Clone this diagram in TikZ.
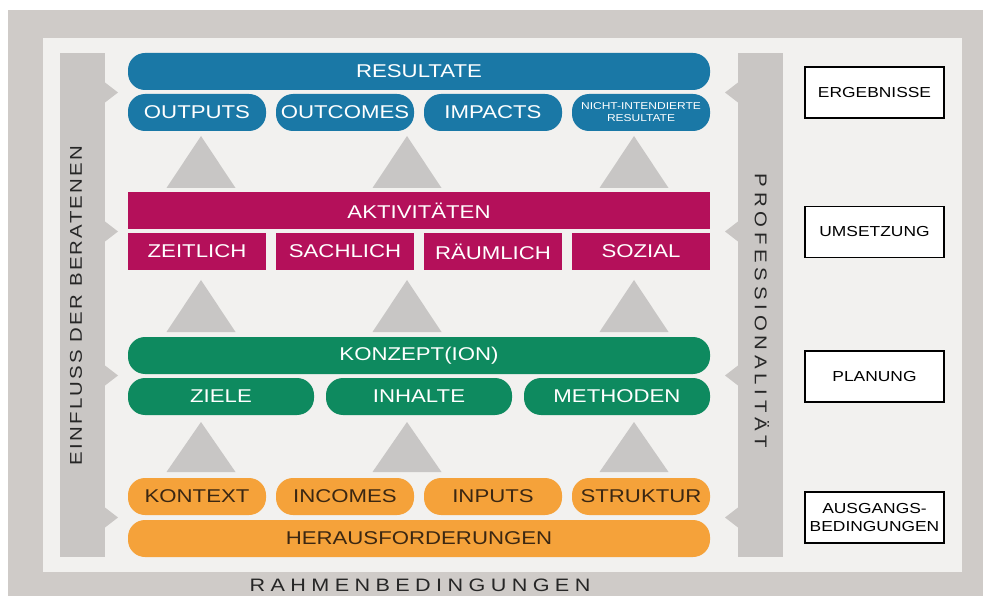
\documentclass[tikz,border=0pt]{standalone}
\usepackage{fontspec}
\setmainfont{Liberation Sans}[FakeStretch=1.2]
\newfontfamily\tracked{Liberation Sans}[FakeStretch=1.2]

\definecolor{framegray}{HTML}{CFCBC8}
\definecolor{innerlight}{HTML}{F2F1EF}
\definecolor{bargray}{HTML}{C9C6C4}
\definecolor{trigray}{HTML}{C8C6C5}
\definecolor{resblue}{HTML}{1A78A6}
\definecolor{aktmagenta}{HTML}{B4105A}
\definecolor{konzgreen}{HTML}{0E8A5F}
\definecolor{ausorange}{HTML}{F5A23A}
\definecolor{orangetext}{HTML}{3B2712}

\begin{document}
\begin{tikzpicture}[x=1pt,y=-1pt,
    pill/.style={rectangle,rounded corners=17pt,minimum height=37pt,inner sep=0pt,
      text=white,font=\fontsize{18.5}{20}\selectfont},
    block/.style={rectangle,minimum height=37pt,inner sep=0pt,
      text=white,font=\fontsize{18.5}{20}\selectfont,fill=aktmagenta},
    stage/.style={rectangle,draw=black,line width=1.1pt,fill=white,minimum width=139pt,
      minimum height=51pt,inner sep=0pt,align=center,font=\fontsize{14.5}{18}\selectfont}]
    \useasboundingbox (0,0) rectangle (983,596);
    % frame and side bars
    \fill[framegray] (8,10) rectangle (983,596);
    \fill[innerlight] (43,38) rectangle (962,572);
    \fill[bargray] (60,53) rectangle (105,557);
    \fill[bargray] (738,53) rectangle (783,557);
    \fill[bargray] (105,82.5) -- (118,92.5) -- (105,102.5) -- cycle;
    \fill[bargray] (105,221.5) -- (118,231.5) -- (105,241.5) -- cycle;
    \fill[bargray] (105,365.5) -- (118,375.5) -- (105,385.5) -- cycle;
    \fill[bargray] (105,507.5) -- (118,517.5) -- (105,527.5) -- cycle;
    \fill[bargray] (738,82.5) -- (725,92.5) -- (738,102.5) -- cycle;
    \fill[bargray] (738,221.5) -- (725,231.5) -- (738,241.5) -- cycle;
    \fill[bargray] (738,365.5) -- (725,375.5) -- (738,385.5) -- cycle;
    \fill[bargray] (738,507.5) -- (725,517.5) -- (738,527.5) -- cycle;
    % triangles between the levels
    \fill[trigray] (166.5,188) -- (201,136) -- (235.5,188) -- cycle;
    \fill[trigray] (372.5,188) -- (407,136) -- (441.5,188) -- cycle;
    \fill[trigray] (599.5,188) -- (634,136) -- (668.5,188) -- cycle;
    \fill[trigray] (166.5,332) -- (201,280) -- (235.5,332) -- cycle;
    \fill[trigray] (372.5,332) -- (407,280) -- (441.5,332) -- cycle;
    \fill[trigray] (599.5,332) -- (634,280) -- (668.5,332) -- cycle;
    \fill[trigray] (166.5,472) -- (201,422) -- (235.5,472) -- cycle;
    \fill[trigray] (372.5,472) -- (407,422) -- (441.5,472) -- cycle;
    \fill[trigray] (599.5,472) -- (634,422) -- (668.5,472) -- cycle;
    % results
    \begin{scope}[every node/.style={pill,fill=resblue}]
        \node[minimum width=582pt] (res) at (419,71.5) {RESULTATE};
        \node[minimum width=138pt] (outputs) at (197,112.5) {OUTPUTS};
        \node[minimum width=138pt] (outcomes) at (345,112.5) {OUTCOMES};
        \node[minimum width=138pt] (impacts) at (493,112.5) {IMPACTS};
        \node[minimum width=138pt,align=center,font=\fontsize{10}{12}\selectfont] (nichtint) at (641,112.5) {NICHT-INTENDIERTE\\RESULTATE};
    \end{scope}
    % activities
    \begin{scope}[every node/.style={block}]
        \node[minimum width=582pt] (akt) at (419,210.5) {AKTIVITÄTEN};
        \node[minimum width=138pt] (zeitlich) at (197,251.5) {ZEITLICH};
        \node[minimum width=138pt] (sachlich) at (345,251.5) {SACHLICH};
        \node[minimum width=138pt] (raeumlich) at (493,251.5) {RÄUMLICH};
        \node[minimum width=138pt] (sozial) at (641,251.5) {SOZIAL};
    \end{scope}
    % concept
    \begin{scope}[every node/.style={pill,fill=konzgreen}]
        \node[minimum width=582pt] (konz) at (419,355.5) {KONZEPT(ION)};
        \node[minimum width=186pt] (ziele) at (221,396.5) {ZIELE};
        \node[minimum width=186pt] (inhalte) at (419,396.5) {INHALTE};
        \node[minimum width=186pt] (methoden) at (617,396.5) {METHODEN};
    \end{scope}
    % starting conditions
    \begin{scope}[every node/.style={pill,fill=ausorange,text=orangetext}]
        \node[minimum width=138pt] (kontext) at (197,496.5) {KONTEXT};
        \node[minimum width=138pt] (incomes) at (345,496.5) {INCOMES};
        \node[minimum width=138pt] (inputs) at (493,496.5) {INPUTS};
        \node[minimum width=138pt] (struktur) at (641,496.5) {STRUKTUR};
        \node[minimum width=582pt] (herausf) at (419,538.5) {HERAUSFORDERUNGEN};
    \end{scope}
    % stages on the right
    \node[stage] (ergebnisse) at (874.5,92.5) {ERGEBNISSE};
    \node[stage] (umsetzung) at (874.5,232) {UMSETZUNG};
    \node[stage] (planung) at (874.5,376.5) {PLANUNG};
    \node[stage] (ausgang) at (874.5,517.5) {AUSGANGS-\\BEDINGUNGEN};
    % side and bottom labels
    \node[rotate=90,inner sep=0pt,text=black!85,
      font=\tracked\addfontfeatures{LetterSpace=13}\fontsize{17}{17}\selectfont] (einfluss) at (76,305.5) {EINFLUSS DER BERATENEN};
    \node[rotate=-90,inner sep=0pt,text=black!85,
      font=\tracked\addfontfeatures{LetterSpace=28}\fontsize{17}{17}\selectfont] (profess) at (762,311) {PROFESSIONALITÄT};
    \node[inner sep=0pt,text=black!85,
      font=\tracked\addfontfeatures{LetterSpace=30}\fontsize{18}{18}\selectfont] (rahmen) at (420,585) {RAHMENBEDINGUNGEN};
\end{tikzpicture}
\end{document}
